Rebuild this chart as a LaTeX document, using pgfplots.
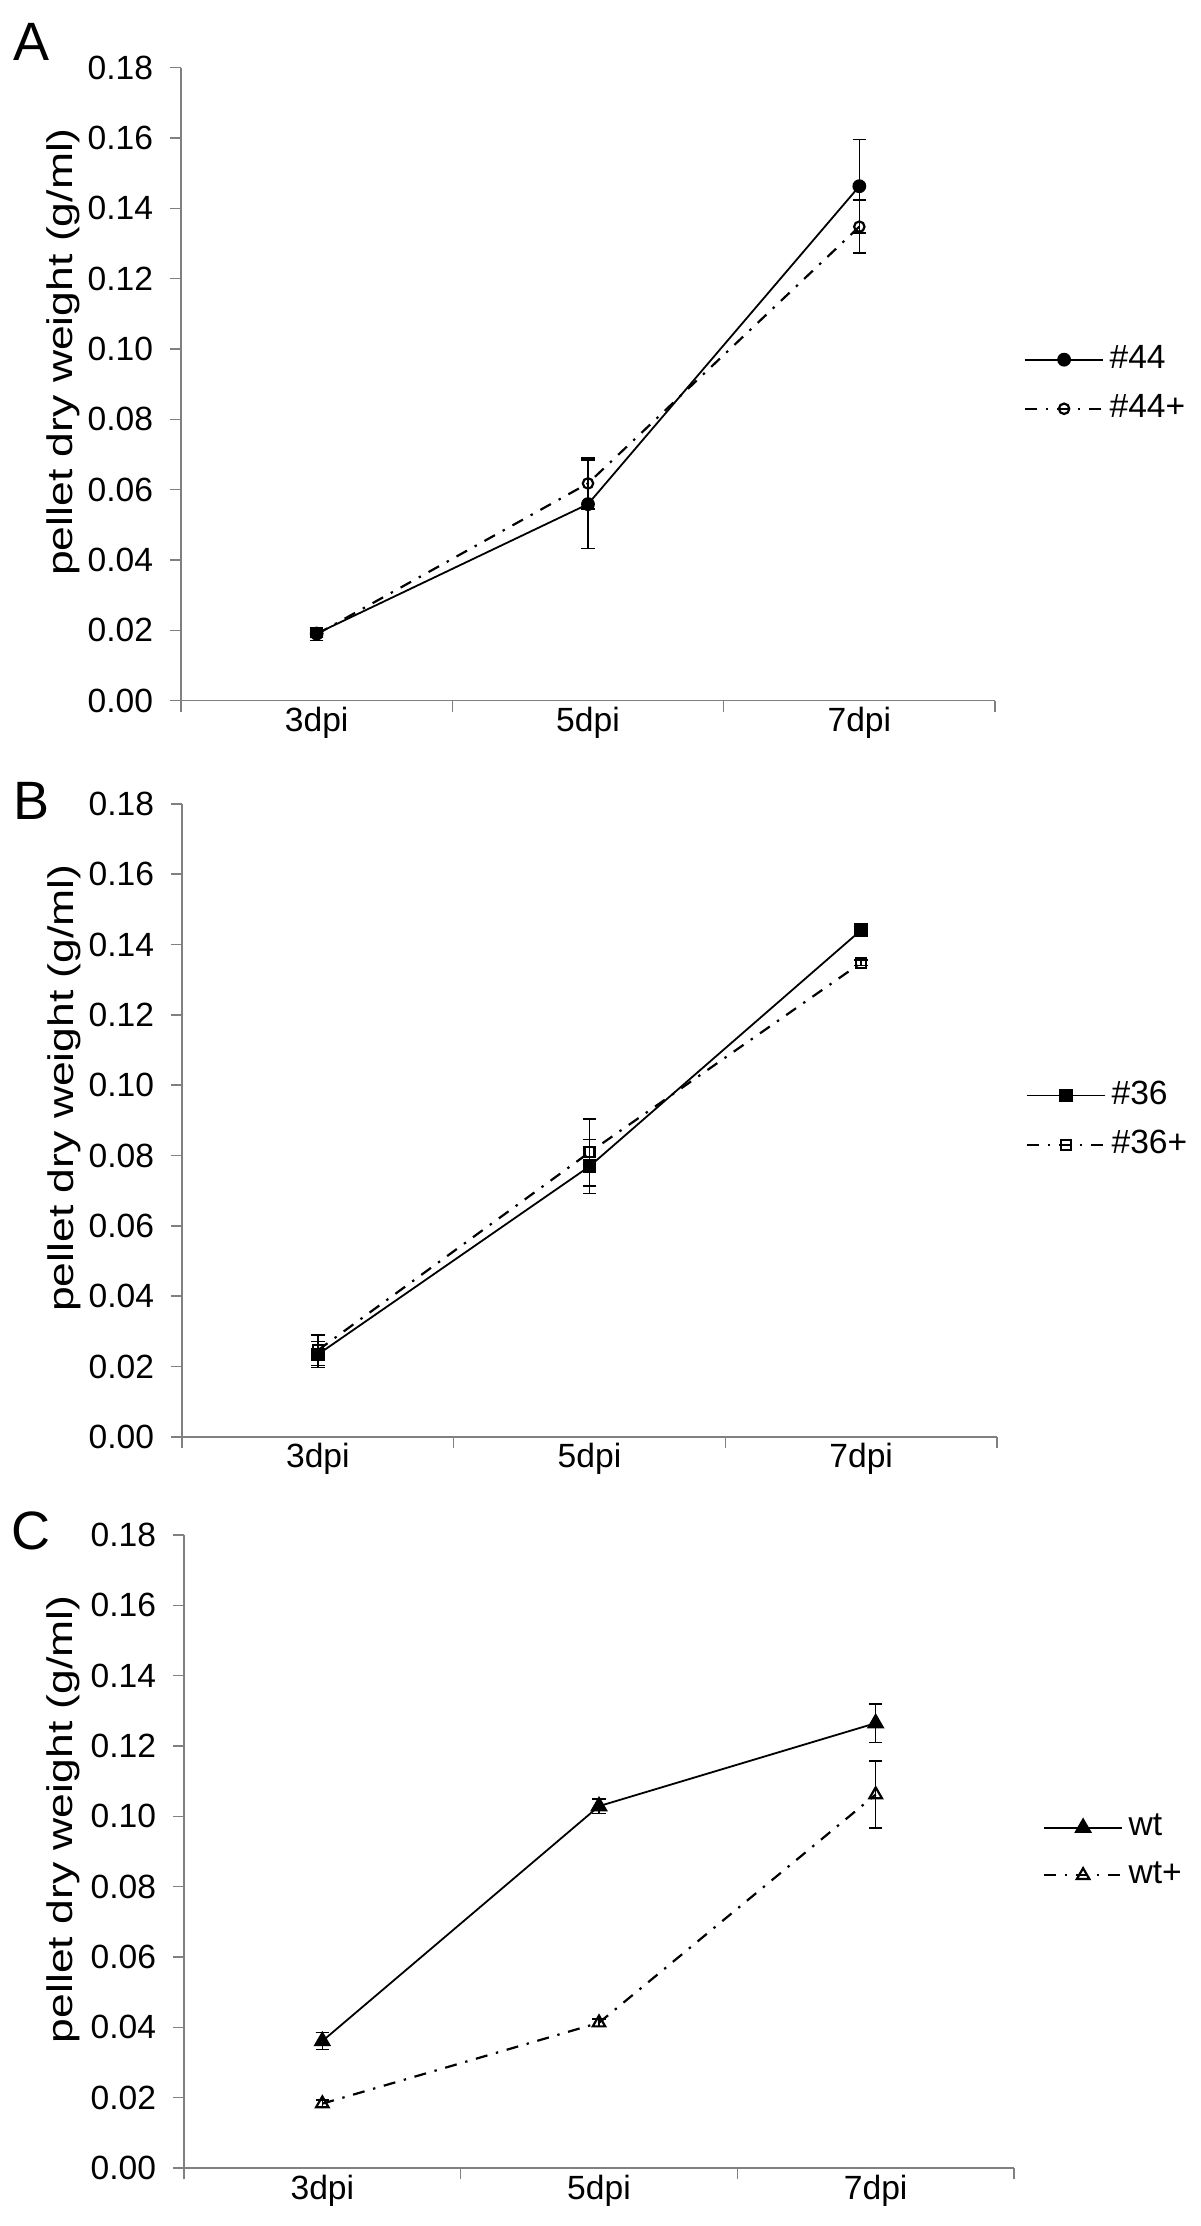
\documentclass[border=0pt]{standalone}
\usepackage{pgfplots}
\pgfplotsset{compat=1.18}
\usepackage{fontspec}
\setmainfont{Liberation Sans}

% 1 px of the reference = 0.25pt
\pgfplotsset{
  panel/.style={
    scale only axis, height=158.25pt, clip=false,
    axis lines*=left, axis line style={black!50, line width=0.35pt},
    xmin=0.5, xmax=3.5, ymin=0, ymax=0.18,
    xtick={0.5,1.5,2.5,3.5}, xticklabels={},
    extra x ticks={1,2,3}, extra x tick labels={3dpi,5dpi,7dpi},
    extra x tick style={major tick length=0pt},
    ytick={0,0.02,0.04,0.06,0.08,0.10,0.12,0.14,0.16,0.18},
    tick align=outside, major tick length=2.8pt,
    tick style={black!50, line width=0.35pt},
    tick label style={font=\fontsize{8.4}{9}\selectfont},
    /pgf/number format/assume math mode=true,
    yticklabel style={/pgf/number format/fixed, /pgf/number format/fixed zerofill,
      /pgf/number format/precision=2, inner sep=0pt, xshift=-4pt},
    xticklabel style={inner sep=0pt, yshift=-1.5pt},
    ylabel={\scalebox{1.25}[1]{pellet dry weight (g/ml)}},
    every axis y label/.style={at={(rel axis cs:-0.145,0.551)}, rotate=90, anchor=center,
      font=\fontsize{8.9}{10}\selectfont},
    legend style={draw=none, fill=none, at={(rel axis cs:1,0.5)}, anchor=west,
      xshift=7pt, inner sep=0pt, row sep=5pt, font=\fontsize{8.4}{9}\selectfont,
      nodes={inner xsep=1.3pt, inner ysep=0pt}},
    legend cell align=left,
    legend image code/.code={\draw[mark repeat=2,mark phase=2,##1]
      plot coordinates {(0pt,0pt) (9.8pt,0pt) (19.6pt,0pt)};},
  },
  solidser/.style={black, line width=0.45pt,
    error bars/y dir=both, error bars/y explicit,
    error bars/error bar style={solid, line width=0.4pt},
    error bars/error mark options={rotate=90, mark size=1.7pt, line width=0.4pt}},
  dashser/.style={black, line width=0.55pt, dash pattern=on 3pt off 2.2pt on 0.6pt off 2.2pt,
    error bars/y dir=both, error bars/y explicit,
    error bars/error bar style={solid, line width=0.4pt},
    error bars/error mark options={rotate=90, mark size=1.7pt, line width=0.4pt}},
}

\begin{document}
\begin{tikzpicture}
\useasboundingbox (0pt,0pt) rectangle (300pt,-556.5pt);

% ---------- A ----------
\begin{axis}[panel, width=203.5pt, at={(45.25pt,-175.18pt)}, anchor=south west]
\addplot[solidser, mark=*, mark size=1.5pt, mark options={solid, fill=black}]
  coordinates {(1,0.0191) +- (0,0.0010) (2,0.0559) +- (0,0.0126) (3,0.1463) +- (0,0.0133)};
\addlegendentry{\#44}
\addplot[dashser, mark=o, mark size=1.3pt, mark options={solid, fill=white}]
  coordinates {(1,0.0189) +- (0,0.0018) (2,0.0618) +- (0,0.0073) (3,0.1348) +- (0,0.0075)};
\addlegendentry{\#44+}
\end{axis}

% ---------- B ----------
\begin{axis}[panel, width=203.75pt, at={(45.5pt,-359.2pt)}, anchor=south west]
\addplot[solidser, mark=square*, mark size=1.5pt, mark options={solid, fill=black}]
  coordinates {(1,0.0234) +- (0,0.0037) (2,0.0769) +- (0,0.0077) (3,0.1441) +- (0,0.0012)};
\addlegendentry{\#36}
\addplot[dashser, mark=square, mark size=1.25pt, mark options={solid, fill=white}]
  coordinates {(1,0.0246) +- (0,0.0043) (2,0.0809) +- (0,0.0095) (3,0.1348) +- (0,0.0008)};
\addlegendentry{\#36+}
\end{axis}

% ---------- C ----------
\begin{axis}[panel, width=207.5pt, at={(46pt,-542pt)}, anchor=south west]
\addplot[solidser, mark=triangle*, mark size=2.1pt, mark options={solid, fill=black}]
  coordinates {(1,0.0361) +- (0,0.0024) (2,0.1029) +- (0,0.0021) (3,0.1265) +- (0,0.0055)};
\addlegendentry{wt}
\addplot[dashser, mark=triangle, mark size=1.8pt, mark options={solid, fill=white}]
  coordinates {(1,0.0183) +- (0,0.0010) (2,0.0413) +- (0,0.0010) (3,0.1062) +- (0,0.0095)};
\addlegendentry{wt+}
\end{axis}

\node[font=\fontsize{13.5}{15}\selectfont] at (7.8pt,-10.6pt) {A};
\node[font=\fontsize{13.5}{15}\selectfont] at (7.8pt,-200.3pt) {B};
\node[font=\fontsize{13.5}{15}\selectfont] at (7.8pt,-382.7pt) {C};
\end{tikzpicture}
\end{document}
